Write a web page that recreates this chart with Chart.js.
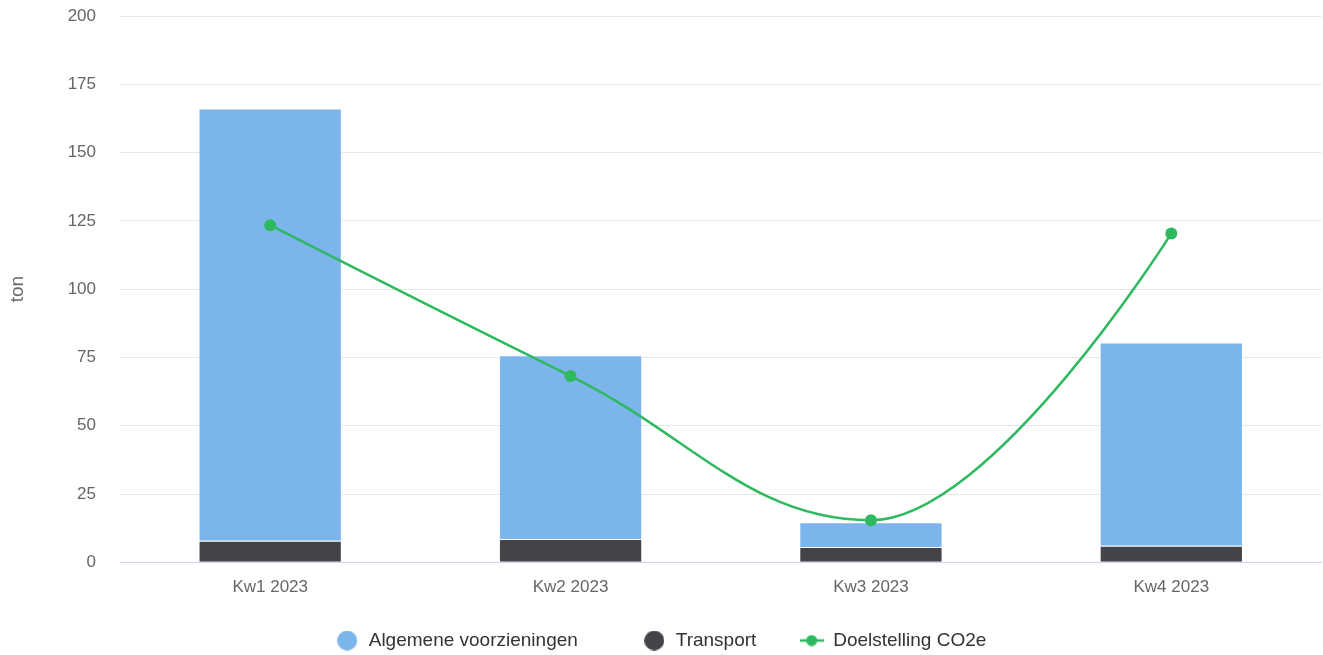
<!DOCTYPE html>
<html>
<head>
<meta charset="utf-8">
<script src="https://cdn.jsdelivr.net/npm/chart.js@4.4.1/dist/chart.umd.min.js"></script>
<style>
  html, body { margin: 0; padding: 0; background: #ffffff; }
  #wrap { width: 1323px; height: 655px; }
</style>
</head>
<body>
<div id="wrap"><canvas id="c" width="1323" height="655"></canvas></div>
<script>
const categories = ['Kw1 2023', 'Kw2 2023', 'Kw3 2023', 'Kw4 2023'];
const algemene = [158.2, 67.3, 9.1, 74.4];
const transport = [7.9, 8.5, 5.6, 6.1];
const doelstelling = [123.4, 68.2, 15.4, 120.4];
const yTicks = [0, 25, 50, 75, 100, 125, 150, 175, 200];

const BLUE = '#7cb5ec';
const DARK = '#434348';
const GREEN = '#2fb95f';

function circleIcon(color, d) {
  const cv = document.createElement('canvas');
  cv.width = d; cv.height = d;
  const ctx = cv.getContext('2d');
  ctx.fillStyle = color;
  ctx.beginPath();
  ctx.arc(d / 2, d / 2, d / 2, 0, Math.PI * 2);
  ctx.fill();
  return cv;
}
function lineIcon(color, w, h, r) {
  const cv = document.createElement('canvas');
  cv.width = w; cv.height = h;
  const ctx = cv.getContext('2d');
  ctx.strokeStyle = color;
  ctx.lineWidth = 2.5;
  ctx.beginPath();
  ctx.moveTo(0, h / 2);
  ctx.lineTo(w, h / 2);
  ctx.stroke();
  ctx.fillStyle = color;
  ctx.beginPath();
  ctx.arc(w / 2, h / 2, r, 0, Math.PI * 2);
  ctx.fill();
  return cv;
}
const icons = [circleIcon(BLUE, 20), circleIcon(DARK, 20), lineIcon(GREEN, 24, 12, 5.5)];
// extra trailing room after a legend entry (spacing only)
const legendTrail = ['    ', '', ''];

// Spline control points in the style of a "spline" series (smoothing 1.5)
const splinePlugin = {
  id: 'splineCtrl',
  beforeDatasetDraw(chart, args) {
    const meta = args.meta;
    if (meta.type !== 'line') return;
    const pts = meta.data;
    const sm = 1.5, den = sm + 1;
    pts.forEach((p, i) => {
      p.cp1x = p.x; p.cp1y = p.y; p.cp2x = p.x; p.cp2y = p.y;
      if (i === 0 || i === pts.length - 1) return;
      const a = pts[i - 1], b = pts[i + 1];
      const lx = (sm * p.x + a.x) / den;
      let ly = (sm * p.y + a.y) / den;
      const rx = (sm * p.x + b.x) / den;
      let ry = (sm * p.y + b.y) / den;
      if (rx !== lx) {
        const corr = ((ry - ly) * (rx - p.x)) / (rx - lx) + p.y - ry;
        ly += corr; ry += corr;
        if (ly > a.y && ly > p.y) { ly = Math.max(a.y, p.y); ry = 2 * p.y - ly; }
        else if (ly < a.y && ly < p.y) { ly = Math.min(a.y, p.y); ry = 2 * p.y - ly; }
        if (ry > b.y && ry > p.y) { ry = Math.max(b.y, p.y); ly = 2 * p.y - ry; }
        else if (ry < b.y && ry < p.y) { ry = Math.min(b.y, p.y); ly = 2 * p.y - ry; }
      }
      p.cp1x = lx; p.cp1y = ly; p.cp2x = rx; p.cp2y = ry;
    });
    meta.dataset._pointsUpdated = true;
  }
};

// move the legend row up into the space below the category labels
const legendShift = {
  id: 'legendShift',
  afterLayout(chart) {
    const l = chart.legend;
    if (!l) return;
    const dy = 9.6;
    l.top -= dy; l.bottom -= dy;
  }
};

Chart.defaults.font.family = '"Liberation Sans", Arial, Helvetica, sans-serif';

new Chart(document.getElementById('c'), {
  data: {
    labels: categories,
    datasets: [
      {
        type: 'bar',
        label: 'Algemene voorzieningen',
        data: algemene,
        backgroundColor: BLUE,
        borderColor: '#ffffff',
        borderWidth: 1,
        order: 2,
        categoryPercentage: 1,
        barPercentage: 0.477
      },
      {
        type: 'bar',
        label: 'Transport',
        data: transport,
        backgroundColor: DARK,
        borderColor: '#ffffff',
        borderWidth: 1,
        order: 1,
        categoryPercentage: 1,
        barPercentage: 0.477
      },
      {
        type: 'line',
        label: 'Doelstelling CO2e',
        data: doelstelling,
        stack: 'target',
        borderColor: GREEN,
        backgroundColor: GREEN,
        borderWidth: 2.5,
        tension: 0.4,
        pointRadius: 6,
        pointHoverRadius: 6,
        pointBorderWidth: 0,
        pointBackgroundColor: GREEN,
        clip: false,
        order: 0
      }
    ]
  },
  plugins: [splinePlugin, legendShift],
  options: {
    responsive: false,
    devicePixelRatio: 1,
    animation: false,
    layout: { autoPadding: false, padding: { top: 16, right: 1.5, left: 0, bottom: -14.6 } },
    plugins: {
      tooltip: { enabled: false },
      legend: {
        position: 'bottom',
        labels: {
          usePointStyle: true,
          pointStyleWidth: 24,
          padding: 43.3,
          color: '#333333',
          font: { size: 19 },
          sort: (a, b) => a.datasetIndex - b.datasetIndex,
          generateLabels: (chart) => {
            const items = Chart.defaults.plugins.legend.labels.generateLabels(chart);
            items.forEach(it => {
              it.pointStyle = icons[it.datasetIndex];
              it.text = it.text + legendTrail[it.datasetIndex];
            });
            return items;
          }
        }
      }
    },
    scales: {
      x: {
        stacked: true,
        grid: { display: false, drawTicks: false },
        border: { display: true, color: '#ccd6eb', width: 1 },
        ticks: { color: '#666666', font: { size: 17 }, padding: 15, autoSkip: false, maxRotation: 0 },
        afterFit: (s) => { s.height = 35; s.paddingLeft = 0; s.paddingRight = 0; }
      },
      y: {
        stacked: true,
        min: 0,
        max: 200,
        afterBuildTicks: (s) => { s.ticks = yTicks.map(v => ({ value: v })); },
        grid: {
          drawTicks: false,
          color: (ctx) => ctx.tick && ctx.tick.value === 0 ? '#ccd6eb' : '#e6e6e6',
          lineWidth: 1
        },
        border: { display: false },
        ticks: { color: '#666666', font: { size: 17 }, padding: 24 },
        title: {
          display: true,
          text: 'ton',
          color: '#666666',
          font: { size: 19 },
          padding: { top: 6, bottom: 0 }
        },
        afterFit: (s) => { s.width = 120; s.paddingTop = 0; s.paddingBottom = 0; }
      }
    }
  }
});
</script>
</body>
</html>
